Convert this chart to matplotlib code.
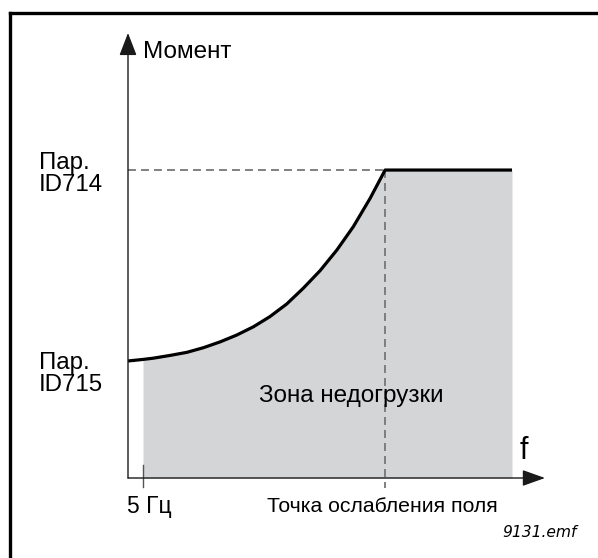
import numpy as np
import matplotlib
matplotlib.use("Agg")
import matplotlib.pyplot as plt
from matplotlib.lines import Line2D

# Underload curve: frequency (Hz) vs. torque (% of ID714 level)
curve_freq = [0.0, 5.0, 8.4, 14.0, 19.6, 25.1, 30.7, 36.2, 41.8, 47.3,
              52.9, 58.4, 64.0, 69.6, 75.1, 80.7, 85.7, 128.0]
curve_torque = [38.0, 38.5, 38.9, 39.8, 40.8, 42.3, 44.2, 46.4, 49.1, 52.4,
                56.5, 61.6, 67.3, 74.0, 81.6, 90.8, 100.0, 100.0]
min_freq = 5.0            # 5 Гц
field_weak_freq = 85.7    # field weakening point
torque_high = 100.0       # Пар. ID714
torque_low = 38.0         # Пар. ID715

W, H = 598, 558
fig = plt.figure(figsize=(W / 100, H / 100), dpi=100)
plt.rcParams['font.family'] = ['Liberation Sans', 'DejaVu Sans']


def fx(x):
    return x / W


def fy(y):
    return 1 - y / H


# axes: origin at the corner of the two arrows
x0, y0, x1, y1 = 128, 478, 545, 33
ax = fig.add_axes([fx(x0), fy(y0), (x1 - x0) / W, (y0 - y1) / H])
ax.set_xlim(0, 139)
ax.set_ylim(0, 144.5)
ax.axis('off')

freq = np.array(curve_freq)
torque = np.array(curve_torque)

# underload zone
ax.fill_between(freq, 0, torque, where=freq >= min_freq,
                color='#d4d5d7', linewidth=0, zorder=1)

# reference dashed lines
dash_kw = dict(color='#767676', lw=1.3, dashes=(4.4, 2.8), zorder=2)
ax.plot([0, field_weak_freq], [torque_high, torque_high], **dash_kw)
ax.plot([field_weak_freq, field_weak_freq], [torque_high, -3.3],
        clip_on=False, **dash_kw)

# 5 Hz tick
ax.plot([min_freq, min_freq], [4.2, -2.9], color='#555555', lw=1.0,
        clip_on=False, zorder=3)

# torque curve
ax.plot(freq, torque, color='black', lw=2.3, solid_joinstyle='round',
        solid_capstyle='butt', zorder=4)

# axis arrows
arr = dict(arrowstyle='-|>,head_length=0.7,head_width=0.25',
           color='#1a1a1a', lw=1.0, shrinkA=0, shrinkB=0, mutation_scale=20)
ax.annotate('', xy=(1, 0), xytext=(0, 0), xycoords='axes fraction',
            textcoords='axes fraction', arrowprops=arr, zorder=5)
ax.annotate('', xy=(0, 1), xytext=(0, 0), xycoords='axes fraction',
            textcoords='axes fraction',
            arrowprops=dict(arr, arrowstyle='-|>,head_length=0.7,head_width=0.27'),
            zorder=5)

# frame (top and left edges)
fig.add_artist(Line2D([fx(10), 1.0], [fy(12.5), fy(12.5)], color='black',
                      lw=2.4, solid_capstyle='projecting'))
fig.add_artist(Line2D([fx(10), fx(10)], [fy(12.5), 0.0], color='black',
                      lw=2.4, solid_capstyle='projecting'))

fs = 17.3
fig.text(fx(143), fy(58), 'Момент', fontsize=17.5, va='baseline', ha='left')
fig.text(fx(39), fy(168.5), 'Пар.', fontsize=fs, va='baseline', ha='left')
fig.text(fx(39), fy(191), 'ID714', fontsize=fs, va='baseline', ha='left')
fig.text(fx(39), fy(368.5), 'Пар.', fontsize=fs, va='baseline', ha='left')
fig.text(fx(39), fy(391), 'ID715', fontsize=fs, va='baseline', ha='left')
fig.text(fx(351), fy(402), 'Зона недогрузки', fontsize=17.5,
         va='baseline', ha='center')
fig.text(fx(520), fy(459), 'f', fontsize=22, va='baseline', ha='left')
fig.text(fx(127), fy(512.5), '5 Гц', fontsize=16.5, va='baseline', ha='left')
fig.text(fx(382), fy(512.5), 'Точка ослабления поля', fontsize=15.3,
         va='baseline', ha='center')
fig.text(fx(577), fy(537), '9131.emf', fontsize=11.2, va='baseline',
         ha='right', style='italic', family='DejaVu Sans')

fig.savefig('out.png', dpi=100, facecolor='white')
